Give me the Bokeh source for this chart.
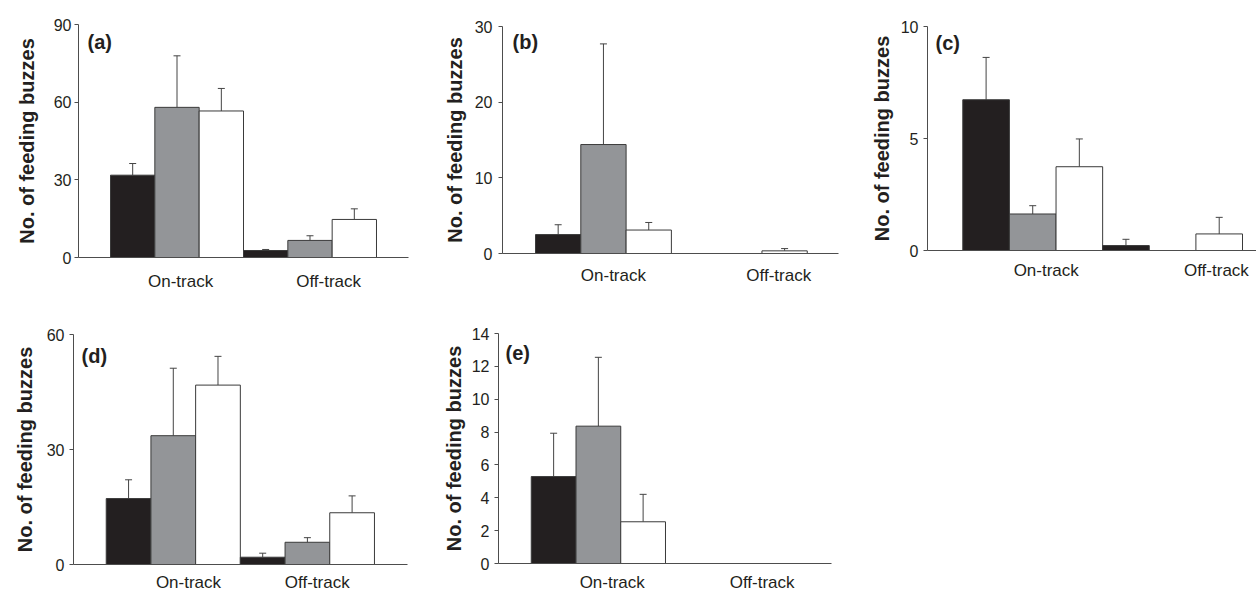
from bokeh.plotting import figure
from bokeh.models import ColumnDataSource, Whisker, TeeHead, FixedTicker, Label, Range1d
from bokeh.layouts import column, row
from bokeh.embed import file_html
from bokeh.resources import INLINE

# ---------------- data ----------------
groups = ["On-track", "Off-track"]
treatments = ["dark", "grey", "white"]
bar_colors = ["#231f20", "#939598", "#ffffff"]
y_title = "No. of feeding buzzes"

a_means = [31.8, 58.0, 56.6, 2.7, 6.6, 14.7]
a_se = [4.5, 19.9, 8.7, 0.4, 1.8, 4.1]
a_ticks = [0, 30, 60, 90]

b_means = [2.5, 14.4, 3.1, 0.0, 0.0, 0.35]
b_se = [1.3, 13.3, 1.0, 0.0, 0.0, 0.3]
b_ticks = [0, 10, 20, 30]

c_means = [6.73, 1.63, 3.74, 0.22, 0.0, 0.74]
c_se = [1.89, 0.37, 1.24, 0.28, 0.0, 0.74]
c_ticks = [0, 5, 10]

d_means = [17.2, 33.6, 46.8, 1.9, 5.8, 13.5]
d_se = [4.9, 17.6, 7.5, 1.05, 1.2, 4.4]
d_ticks = [0, 30, 60]

e_means = [5.29, 8.36, 2.54, 0.0, 0.0, 0.0]
e_se = [2.64, 4.19, 1.67, 0.0, 0.0, 0.0]
e_ticks = [0, 2, 4, 6, 8, 10, 12, 14]

FONT = "Liberation Sans"
TEXT = "#231f20"
AXIS = "#4d4d4d"


def make_panel(letter, means, ses, yticks, width, height, left, right, top, bottom,
               xr, cat_pos, tick_standoff, title_standoff, label_standoff,
               letter_dx, letter_dy):
    frame_h = height - top - bottom
    p = figure(width=width, height=height, output_backend="svg", toolbar_location=None,
               x_range=Range1d(*xr), y_range=Range1d(yticks[0], yticks[-1]),
               min_border_left=left, min_border_right=right,
               min_border_top=top, min_border_bottom=bottom)
    p.frame_align = False
    p.outline_line_color = None
    p.xgrid.visible = False
    p.ygrid.visible = False
    p.background_fill_color = "white"
    p.border_fill_color = "white"

    xs, fills = [], []
    for gi in range(len(groups)):
        for ti in range(len(treatments)):
            xs.append(gi * len(treatments) + ti)
            fills.append(bar_colors[ti])
    src = ColumnDataSource(dict(x=xs, top=means, fill=fills))
    p.vbar(x="x", top="top", bottom=0, width=1, fill_color="fill",
           line_color="#3a3a3a", line_width=1, source=src)

    wx = [x for x, s in zip(xs, ses) if s > 0]
    wl = [m for m, s in zip(means, ses) if s > 0]
    wu = [m + s for m, s in zip(means, ses) if s > 0]
    wsrc = ColumnDataSource(dict(x=wx, lower=wl, upper=wu))
    w = Whisker(base="x", lower="lower", upper="upper", source=wsrc,
                line_color="#444444", line_width=1, lower_head=None,
                upper_head=TeeHead(size=7, line_color="#444444", line_width=1))
    p.add_layout(w)

    ya = p.yaxis[0]
    ya.ticker = FixedTicker(ticks=yticks)
    ya.minor_tick_line_color = None
    ya.major_tick_in = 0
    ya.major_tick_out = 4
    ya.axis_line_color = AXIS
    ya.major_tick_line_color = AXIS
    ya.major_label_text_font = FONT
    ya.major_label_text_font_size = "16px"
    ya.major_label_text_color = TEXT
    ya.major_label_standoff = tick_standoff
    ya.axis_label = y_title
    ya.axis_label_text_font = FONT
    ya.axis_label_text_font_style = "bold"
    ya.axis_label_text_font_size = "20px"
    ya.axis_label_text_color = TEXT
    ya.axis_label_standoff = title_standoff

    xa = p.xaxis[0]
    xa.ticker = FixedTicker(ticks=cat_pos)
    xa.major_label_overrides = {pos: g for pos, g in zip(cat_pos, groups)}
    xa.major_tick_line_color = None
    xa.major_tick_out = 0
    xa.major_tick_in = 0
    xa.minor_tick_line_color = None
    xa.axis_line_color = AXIS
    xa.major_label_text_font = FONT
    xa.major_label_text_font_size = "17px"
    xa.major_label_text_color = TEXT
    xa.major_label_standoff = label_standoff

    p.add_layout(Label(x=letter_dx, y=frame_h - letter_dy, x_units="screen", y_units="screen",
                       text="(" + letter + ")", text_font=FONT, text_font_style="bold",
                       text_font_size="20px", text_color=TEXT, text_baseline="top"))
    return p


pa = make_panel("a", a_means, a_se, a_ticks, 420, 300, 78, 12, 24, 43,
                (-1.222, 6.222), [1.08, 4.42], 3, 13, 14, 9, 6)
pb = make_panel("b", b_means, b_se, b_ticks, 420, 300, 82, 2, 26, 47,
                (-1.229, 6.19), [1.22, 4.87], 6, 6, 12, 10, 4)
pc = make_panel("c", c_means, c_se, c_ticks, 416, 300, 87, 0, 26, 50,
                (-1.257, 5.80), [1.29, 4.94], 5, 5, 10, 8, 5)
pd = make_panel("d", d_means, d_se, d_ticks, 420, 295, 73, 13, 34, 31,
                (-1.232, 6.239), [1.34, 4.22], 5, 8, 8, 8, 10)
pe = make_panel("e", e_means, e_se, e_ticks, 420, 295, 498 - 420, 9, 33, 32,
                (-1.232, 6.21), [1.31, 4.66], 5, 4, 9, 7, 8)

layout = column(row(pa, pb, pc), row(pd, pe))
open("out.html", "w").write(file_html(layout, INLINE))
